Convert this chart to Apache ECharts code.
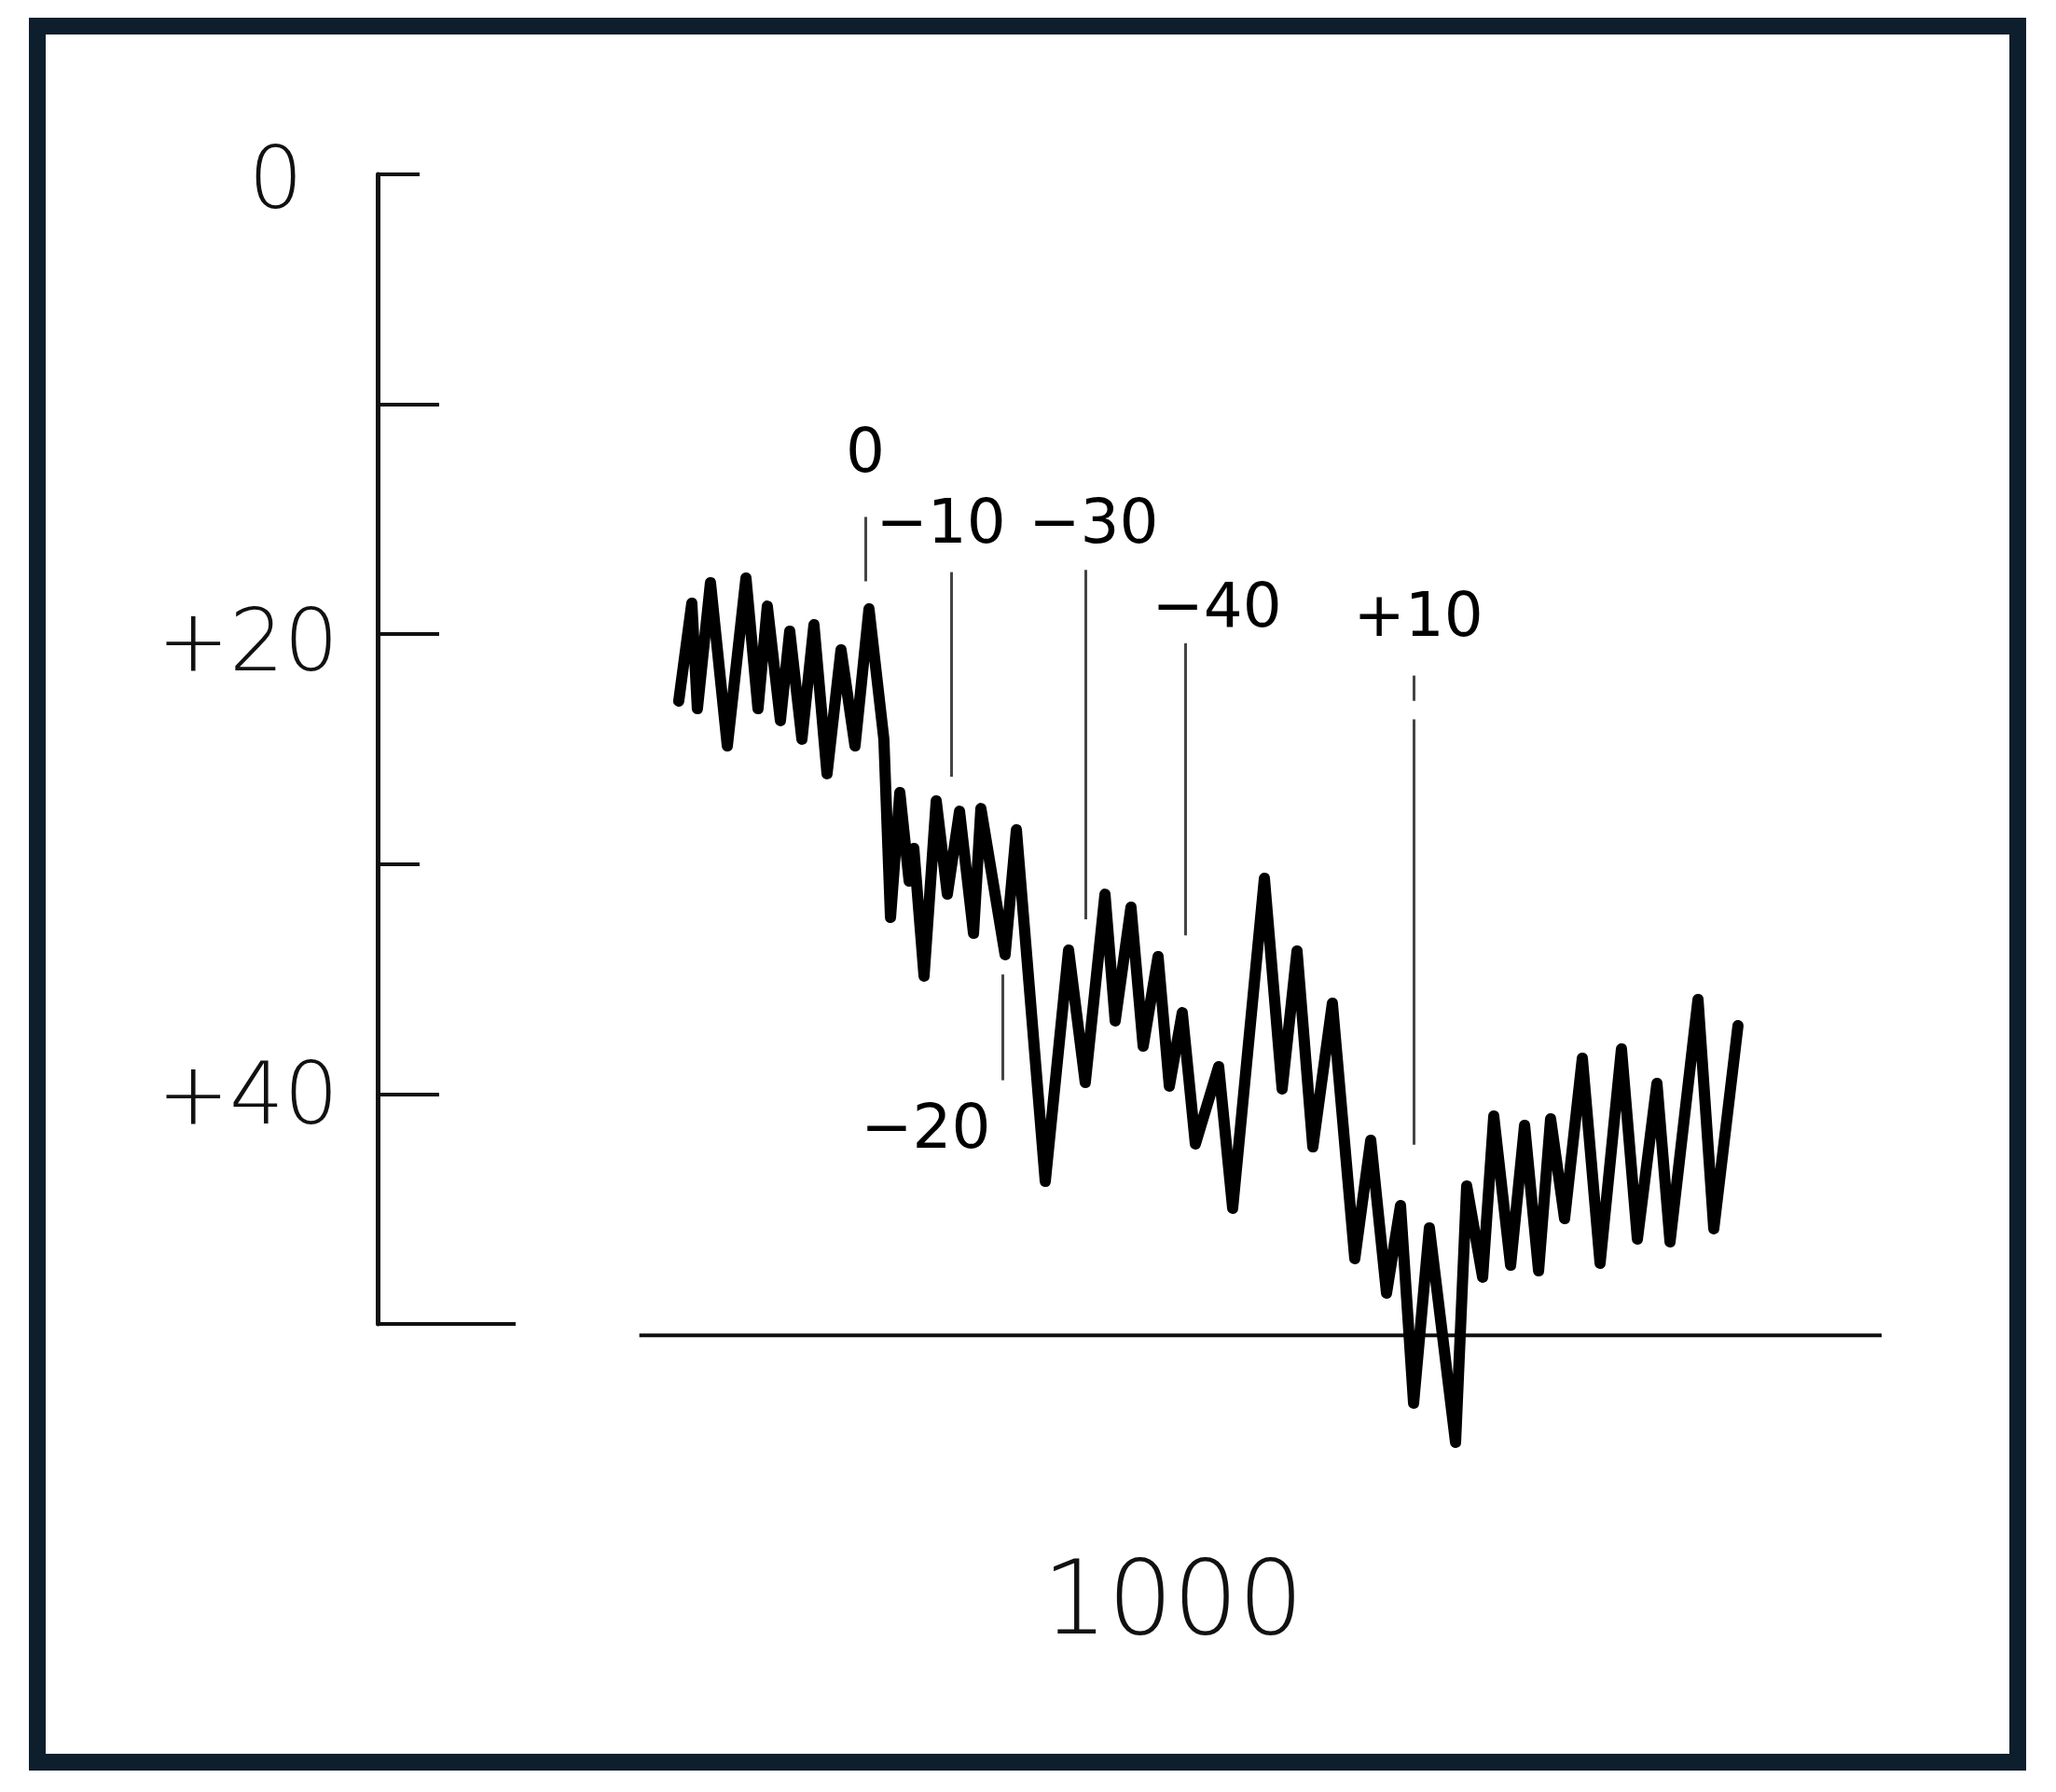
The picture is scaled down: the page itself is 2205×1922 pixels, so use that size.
<!DOCTYPE html>
<html><head><meta charset="utf-8">
<script src="https://cdn.jsdelivr.net/npm/echarts@6/dist/echarts.min.js"></script>
<style>html,body{margin:0;padding:0;background:#fff}#c{width:2205px;height:1922px}</style>
</head><body><div id="c"></div>
<script>
// trace (x: arbitrary time units 0..1000, y: axis value, 0 at top, 50 at bottom)
const traceX = [200.2,208.9,212.6,221.3,232.5,244.9,252.9,259.1,267.8,274.0,282.1,290.1,298.8,308.1,317.4,326.7,336.6,341.0,347.2,353.4,356.5,363.3,371.4,378.8,386.9,396.2,401.1,417.2,424.7,443.9,459.4,470.5,483.6,490.4,500.9,509.0,518.9,526.4,535.0,543.7,559.2,568.5,589.6,601.4,611.3,621.8,634.8,649.7,660.3,670.8,680.1,688.8,699.3,716.7,724.1,734.7,742.1,753.3,762.6,771.9,779.9,789.2,801.0,812.8,827.0,837.6,850.6,859.3,877.9,888.4,904.5];
const traceY = [22.91,18.65,23.24,17.76,24.86,17.56,23.24,18.78,23.76,19.87,24.57,19.59,26.07,20.68,24.86,18.90,24.57,32.32,26.89,30.74,29.32,34.87,27.25,31.31,27.70,33.01,27.58,33.94,28.51,43.80,33.74,39.50,31.31,36.82,31.87,37.92,34.02,39.66,36.46,42.17,38.81,44.97,30.62,39.78,33.78,42.30,36.05,47.16,42.01,48.66,44.85,53.45,45.82,55.15,44.00,47.97,40.96,47.45,41.36,47.69,41.08,45.42,38.44,47.36,38.04,46.31,39.54,46.43,35.89,45.86,37.02];

// horizontal reference line
const baselineX = [174, 1000];
const baselineLevel = 50.5;

// event markers
const markerText = ['0', '\u221210', '\u221230', '\u221240', '\u221220', '+10'];
const markerLabelX = [324.2, 374.5, 476.1, 558.0, 364.5, 691.9];
const markerLabelY = [12.25, 15.33, 15.33, 18.98, 41.65, 19.38];
const markerLineX = [324.2, 381.3, 470.6, 536.9, 415.4, 688.8, 688.8];
const markerLineTop = [14.9, 17.3, 17.2, 20.4, 34.8, 21.8, 23.7];
const markerLineBottom = [17.7, 26.2, 32.4, 33.1, 39.4, 22.9, 42.2];

// y axis
const yLongTicks = [10, 20, 40];
const yShortTicks = [0, 30];
const yBottomTick = [50];
const yLabelValues = [0, 20, 40];
const yLabelTexts = ['0', '+20', '+40'];
const xCaption = '1000';

const FONT = 'DejaVu Sans';
const INK = '#111';
const chart = echarts.init(document.getElementById('c'), null, {renderer: 'canvas'});

const yBase = {
  type: 'value', inverse: true, min: 0, max: 50, position: 'left',
  splitLine: {show: false}, axisLabel: {show: false},
  axisLine: {show: false}, axisTick: {show: false}
};

const option = {
  backgroundColor: '#fff',
  animation: false,
  grid: {left: 405, right: 187, top: 187, bottom: 502, containLabel: false},
  xAxis: {type: 'value', min: 0, max: 1000, show: false},
  yAxis: [
    Object.assign({}, yBase, {
      axisLine: {show: true, lineStyle: {color: INK, width: 5}},
      axisTick: {show: true, inside: true, length: 66, customValues: yLongTicks, lineStyle: {color: INK, width: 4}},
      axisLabel: {
        show: true, customValues: yLabelValues, margin: 42,
        formatter: function (v) {
          const i = yLabelValues.indexOf(v);
          const t = i >= 0 ? yLabelTexts[i] : '';
          return '{s' + v + '|' + t + '}';
        },
        rich: {
          s0: {fontSize: 92, fontFamily: FONT, fontWeight: 200, color: INK, padding: [24, 38, 0, 0]},
          s20: {fontSize: 92, fontFamily: FONT, fontWeight: 200, color: INK, padding: [30, 0, 0, 0]},
          s40: {fontSize: 92, fontFamily: FONT, fontWeight: 200, color: INK, padding: [16, 0, 0, 0]}
        }
      }
    }),
    Object.assign({}, yBase, {
      axisTick: {show: true, inside: true, length: 45, customValues: yShortTicks, lineStyle: {color: INK, width: 4}}
    }),
    Object.assign({}, yBase, {
      axisTick: {show: true, inside: true, length: 148, customValues: yBottomTick, lineStyle: {color: INK, width: 4}}
    })
  ],
  series: [
    {
      type: 'line', yAxisIndex: 0, symbol: 'none', silent: true, clip: false,
      data: traceX.map((x, i) => [x, traceY[i]]),
      lineStyle: {color: '#000', width: 12, join: 'round', cap: 'round'},
      z: 5
    },
    {
      type: 'line', yAxisIndex: 0, symbol: 'none', silent: true, clip: false,
      data: baselineX.map(x => [x, baselineLevel]),
      lineStyle: {color: INK, width: 4},
      z: 4
    },
    {
      type: 'scatter', yAxisIndex: 0, symbolSize: 0, silent: true, clip: false,
      itemStyle: {color: '#000', opacity: 1},
      data: markerLabelX.map((x, i) => [x, markerLabelY[i], markerText[i]]),
      label: {
        show: true, position: 'inside', color: '#000', opacity: 1, fontSize: 66, fontFamily: FONT, fontWeight: 'normal',
        textBorderWidth: 0, formatter: p => p.data[2]
      },
      markLine: {
        silent: true, symbol: ['none', 'none'], label: {show: false},
        lineStyle: {color: '#444', width: 3, type: 'solid', opacity: 1},
        data: markerLineX.map((x, i) => [{coord: [x, markerLineTop[i]]}, {coord: [x, markerLineBottom[i]]}])
      },
      z: 3
    }
  ],
  graphic: [
    {type: 'rect', z: 100, silent: true, shape: {x: 40, y: 28, width: 2124, height: 1862},
     style: {fill: null, stroke: '#0d1e2c', lineWidth: 18}},
    {type: 'text', z: 100, silent: true, x: 1258, y: 1723,
     style: {text: xCaption, fontSize: 110, fontFamily: FONT, fontWeight: 200, fill: INK, align: 'center', verticalAlign: 'middle'}}
  ]
};
chart.setOption(option);
</script>
</body></html>
